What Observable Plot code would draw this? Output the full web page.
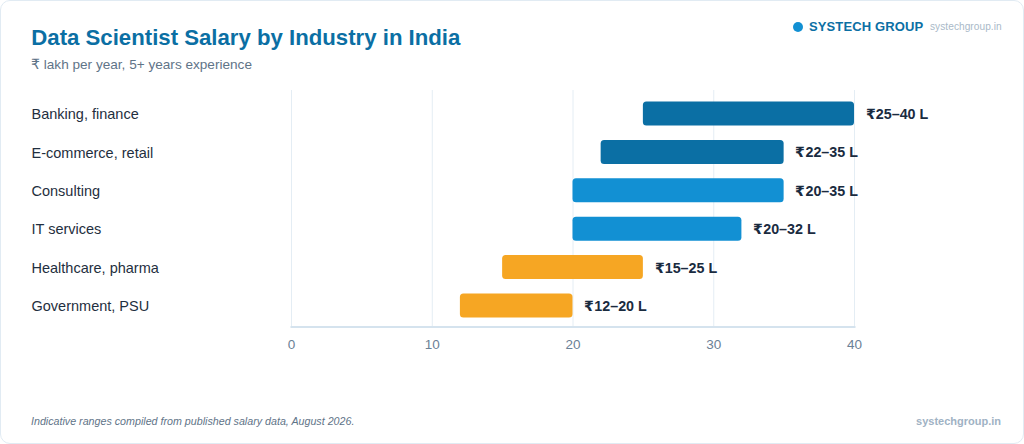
<!DOCTYPE html>
<html><head><meta charset="utf-8">
<script src="https://cdn.jsdelivr.net/npm/d3@7"></script>
<script src="https://cdn.jsdelivr.net/npm/@observablehq/plot@0.6"></script>
<style>
@font-face{font-family:Rupee;src:local("DejaVu Sans");font-weight:400;unicode-range:U+20B9}
@font-face{font-family:Rupee;src:local("DejaVu Sans Bold");font-weight:700;unicode-range:U+20B9}
html,body{margin:0;padding:0;background:#fff;width:1024px;height:444px;overflow:hidden;font-family:Rupee,"Liberation Sans",Arial,sans-serif}
#card{position:absolute;left:0;top:0;width:1022px;height:442px;border:1px solid #e1ebf3;border-radius:10px;background:#fff}
.t{position:absolute;white-space:nowrap;line-height:1}
#plot{position:absolute;left:0;top:0}
#plot svg{display:block;background:transparent}
</style></head><body>
<div id="card"></div>
<div id="plot"></div>
<div class="t" style="left:31.3px;top:26.5px;font-size:22.2px;font-weight:700;color:#0b6fa4">Data Scientist Salary by Industry in India</div>
<div class="t" style="left:31px;top:57.5px;font-size:13.6px;color:#5f7488">₹ lakh per year, 5+ years experience</div>
<div style="position:absolute;left:793px;top:22px;width:10px;height:10px;border-radius:50%;background:#1290d3"></div>
<div class="t" style="left:809px;top:19.5px;font-size:13px;font-weight:700;letter-spacing:.12px;color:#0b6fa4">SYSTECH GROUP</div>
<div class="t" style="left:930px;top:21.5px;font-size:10.15px;letter-spacing:.05px;color:#a9b9c8">systechgroup.in</div>
<div class="t" style="left:31px;top:416px;font-size:10.7px;font-style:italic;color:#5f7488">Indicative ranges compiled from published salary data, August 2026.</div>
<div class="t" style="right:23px;top:416px;font-size:11px;font-weight:700;color:#9fb2c4">systechgroup.in</div>
<script>
const categories = ["Banking, finance","E-commerce, retail","Consulting","IT services","Healthcare, pharma","Government, PSU"];
const lows = [25,22,20,20,15,12];
const highs = [40,35,35,32,25,20];
const groups = ["top","top","mid","mid","low","low"];
const labels = ["₹25–40 L","₹22–35 L","₹20–35 L","₹20–32 L","₹15–25 L","₹12–20 L"];
const xTicks = [0,10,20,30,40];
const rows = categories.map((c,i)=>({c,lo:lows[i],hi:highs[i],g:groups[i],l:labels[i]}));
const chart = Plot.plot({
  width:1024,height:444,
  marginLeft:291,marginRight:170,marginTop:90,marginBottom:117.5,
  style:{fontFamily:'Rupee,"Liberation Sans",Arial,sans-serif',background:"transparent",overflow:"visible"},
  x:{domain:[0,40],axis:null},
  y:{domain:categories,range:[94.3,324.7],round:false,paddingInner:0.375,paddingOuter:0.1875,axis:null},
  color:{domain:["top","mid","low"],range:["#0b6fa4","#1290d3","#f6a623"]},
  marks:[
    Plot.ruleX(xTicks,{stroke:"#e4edf4",strokeWidth:1}),
    Plot.axisX(xTicks,{anchor:"bottom",tickSize:0,tickPadding:12,fontSize:13.5,fill:"#6b8196",stroke:"none"}),
    Plot.barX(rows,{y:"c",x1:"lo",x2:"hi",fill:"g",rx:3.5}),
    Plot.text(categories,{y:d=>d,text:d=>d,frameAnchor:"left",dx:-260,dy:0.5,textAnchor:"start",fontSize:14.5,fill:"#1f2f40"}),
    Plot.text(rows,{y:"c",x:"hi",text:"l",dx:11.3,dy:0.5,textAnchor:"start",fontSize:14.3,fontWeight:700,fill:"#1a2b3f"}),
    Plot.frame({anchor:"bottom",stroke:"#d5e3ee",strokeWidth:2})
  ]
});
document.getElementById("plot").appendChild(chart);
</script>
</body></html>
